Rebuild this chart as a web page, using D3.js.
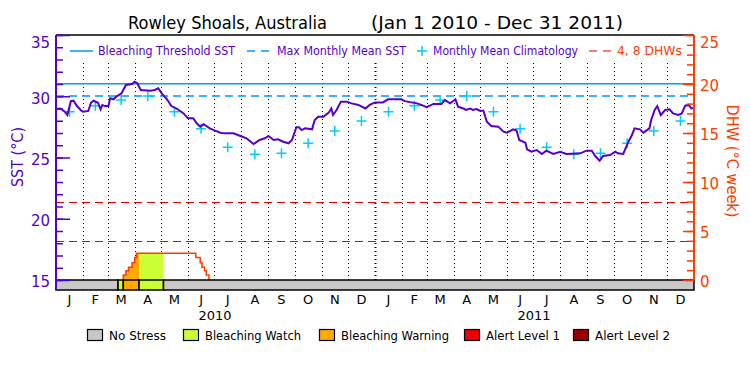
<!DOCTYPE html>
<html>
<head>
<meta charset="utf-8">
<script src="https://cdn.jsdelivr.net/npm/d3@7"></script>
<style>
  body { margin: 0; background: #fff; }
  svg { display: block; font-family: "DejaVu Sans", sans-serif; }
</style>
</head>
<body>
<div class="Canvas"></div>
<script>
// values
const sstDays = [0, 5, 10, 13, 17, 20, 24, 29, 31, 37, 40, 43, 48, 51, 53, 56, 60, 62, 66, 69, 75, 80, 87, 90, 93, 97,
  108, 113, 117, 121, 127, 132, 138, 146, 151, 157, 161, 165, 169, 172, 176, 182, 188, 193, 203, 211, 218, 226, 233,
  239, 243, 249, 254, 260, 266, 270, 275, 278, 281, 285, 293, 296, 300, 306, 312, 315, 317, 321, 326, 333, 338, 346,
  354, 359, 365, 374, 380, 395, 399, 413, 418, 424, 432, 441, 445, 451, 457, 460, 466, 469, 474, 477, 481, 485, 489,
  493, 498, 506, 512, 516, 523, 527, 530, 537, 539, 544, 550, 556, 561, 569, 577, 584, 600, 607, 613, 617, 622, 626,
  634, 640, 643, 649, 655, 659, 662, 668, 672, 679, 681, 685, 688, 692, 697, 702, 706, 712, 716, 720, 724, 727, 730];
const sstValues = [28.96, 29.0, 28.74, 28.47, 29.6, 29.64, 29.2, 28.82, 28.74, 28.8, 29.47, 29.64, 29.47, 28.93, 29.29,
  29.2, 29.2, 29.83, 29.75, 29.97, 30.24, 30.92, 31.0, 31.19, 31.06, 30.51, 30.45, 30.51, 30.65, 30.24, 29.75, 29.2,
  29.0, 28.6, 28.2, 28.2, 27.79, 27.52, 27.71, 27.57, 27.38, 27.19, 27.02, 26.97, 26.97, 26.76, 26.57, 26.1, 26.43,
  26.57, 26.76, 26.43, 26.49, 26.29, 26.16, 26.43, 27.47, 27.47, 27.24, 27.38, 27.3, 28.06, 28.33, 28.33, 28.66, 29.0,
  28.47, 28.88, 29.56, 29.56, 29.42, 29.29, 29.0, 29.29, 29.5, 29.5, 29.75, 29.75, 29.6, 29.42, 29.29, 29.1, 29.37,
  29.37, 29.69, 29.42, 29.75, 29.15, 29.0, 28.88, 29.0, 28.88, 28.95, 28.82, 28.82, 27.92, 27.57, 27.52, 27.11, 27.03,
  27.3, 27.2, 26.43, 26.21, 25.67, 25.47, 25.61, 25.29, 25.56, 25.29, 25.47, 25.29, 25.34, 25.56, 25.56, 25.12, 24.74,
  25.12, 25.2, 25.47, 25.34, 25.29, 26.29, 26.84, 27.38, 27.3, 27.03, 27.38, 28.06, 28.88, 29.2, 28.47, 28.88, 28.93,
  28.6, 28.47, 28.6, 29.23, 29.29, 29.0, 29.05];

const climatology = [28.74, 29.23, 29.69, 30.02, 28.74, 27.35, 25.83, 25.26, 25.34, 26.16, 27.16, 27.98];
const maxMonthlyMean = 30.02;
const bleachingThreshold = 31.02;
const dhwLevels = [4, 8];

const dhwDays = [77, 77, 80, 83, 87, 90, 92, 160, 165, 167, 170, 172, 175];
const dhwValues = [0, 0.51, 0.95, 1.3, 1.77, 2.3, 2.72, 2.3, 1.77, 1.3, 0.95, 0.51, 0];

const stressStart = [0, 71, 77, 95, 123];
const stressEnd = [71, 77, 95, 123, 730];
const stressLevel = [0, 1, 2, 1, 0];

const stressNames = ['No Stress', 'Bleaching Watch', 'Bleaching Warning', 'Alert Level 1', 'Alert Level 2'];
const stressColors = ['#c8c8c8', '#ccff33', '#ffaa00', '#ee0000', '#990000'];

const monthLetters = ['J', 'F', 'M', 'A', 'M', 'J', 'J', 'A', 'S', 'O', 'N', 'D'];
const years = ['2010', '2011'];
const sstTicks = [15, 20, 25, 30, 35];
const dhwTicks = [0, 5, 10, 15, 20, 25];

const purple = '#5500cc';
const orange = '#ff3c00';
const red = '#e80000';
const blue = '#0099ff';
const cyan = '#00ccff';

const plotLeft = 56;
const plotRight = 694;
const plotTop = 35;
const plotBase = 280;
const barBottom = 290;

const start = new Date(Date.UTC(2010, 0, 1));
const end = new Date(Date.UTC(2012, 0, 1));
const day = (d) => d3.utcDay.offset(start, Math.floor(d));

const x = d3.scaleUtc().domain([start, end]).range([plotLeft, plotRight]);
const ySst = d3.scaleLinear().domain([15, 35]).range([plotBase, plotTop]);
const yDhw = d3.scaleLinear().domain([0, 25]).range([plotBase, plotTop]);

const svg = d3.select('.Canvas').append('svg').attr('width', 750).attr('height', 375);

// title
svg.append('text').attr('x', 128).attr('y', 29).attr('font-size', 17)
  .attr('textLength', 199).attr('lengthAdjust', 'spacingAndGlyphs')
  .text('Rowley Shoals, Australia');
svg.append('text').attr('x', 371).attr('y', 29).attr('font-size', 17)
  .attr('textLength', 252).attr('lengthAdjust', 'spacingAndGlyphs')
  .text('(Jan 1 2010 - Dec 31 2011)');

// month grid
const months = d3.utcMonth.range(start, end);
svg.append('g').selectAll('line').data(months.slice(1)).enter().append('line')
  .attr('x1', (d) => Math.round(x(d)) + 0.5).attr('x2', (d) => Math.round(x(d)) + 0.5)
  .attr('y1', 63).attr('y2', plotBase)
  .attr('stroke', 'black')
  .attr('stroke-width', (d) => (d.getUTCMonth() == 0 ? 2 : 1))
  .attr('stroke-dasharray', '1,3');

// reference lines
svg.append('line').attr('x1', plotLeft).attr('x2', plotRight)
  .attr('y1', ySst(bleachingThreshold)).attr('y2', ySst(bleachingThreshold))
  .attr('stroke', blue).attr('stroke-width', 1.5);
svg.append('line').attr('x1', plotLeft).attr('x2', plotRight)
  .attr('y1', ySst(maxMonthlyMean)).attr('y2', ySst(maxMonthlyMean))
  .attr('stroke', blue).attr('stroke-width', 1.5).attr('stroke-dasharray', '8,5');
svg.append('g').selectAll('line').data(dhwLevels).enter().append('line')
  .attr('x1', plotLeft).attr('x2', plotRight)
  .attr('y1', (d) => Math.round(yDhw(d)) + 0.5).attr('y2', (d) => Math.round(yDhw(d)) + 0.5)
  .attr('stroke', red).attr('stroke-width', 1.2).attr('stroke-dasharray', '8,5');

// DHW fill coloured by stress level, then outline
const dhwPoints = dhwDays.map((d, i) => ({ date: day(d), value: dhwValues[i] }));
const area = d3.area().curve(d3.curveStepAfter)
  .x((d) => x(d.date)).y0(plotBase).y1((d) => yDhw(d.value));
const defs = svg.append('defs');
stressLevel.forEach((lvl, i) => {
  if (lvl == 0) return;
  defs.append('clipPath').attr('id', `seg${i}`).append('rect')
    .attr('x', x(day(stressStart[i]))).attr('y', plotTop)
    .attr('width', x(day(stressEnd[i])) - x(day(stressStart[i]))).attr('height', plotBase - plotTop);
  svg.append('path').datum(dhwPoints).attr('d', area)
    .attr('fill', stressColors[lvl]).attr('clip-path', `url(#seg${i})`);
});
svg.append('path').datum(dhwPoints)
  .attr('d', d3.line().curve(d3.curveStepAfter).x((d) => x(d.date)).y((d) => yDhw(d.value)))
  .attr('fill', 'none').attr('stroke', orange).attr('stroke-width', 1.5);

// climatology crosses at mid-month
const climPoints = months.map((m) => {
  const next = d3.utcMonth.offset(m, 1);
  return { date: new Date((+m + +next) / 2), value: climatology[m.getUTCMonth()] };
});
svg.append('g').selectAll('path').data(climPoints).enter().append('path')
  .attr('d', (d) => {
    const cx = x(d.date), cy = ySst(d.value);
    return `M${cx - 5},${cy}H${cx + 5}M${cx},${cy - 5}V${cy + 5}`;
  })
  .attr('stroke', cyan).attr('stroke-width', 1.5);

// SST line
const sstPoints = sstDays.map((d, i) => ({ date: day(d), value: sstValues[i] }));
svg.append('path').datum(sstPoints)
  .attr('d', d3.line().x((d) => x(d.date)).y((d) => ySst(d.value)))
  .attr('fill', 'none').attr('stroke', purple).attr('stroke-width', 2);

// stress bar
svg.append('g').selectAll('rect').data(stressLevel).enter().append('rect')
  .attr('x', (d, i) => x(day(stressStart[i])))
  .attr('width', (d, i) => x(day(stressEnd[i])) - x(day(stressStart[i])))
  .attr('y', plotBase).attr('height', barBottom - plotBase)
  .attr('fill', (d) => stressColors[d]).attr('stroke', 'black').attr('stroke-width', 1.5);

// frame
svg.append('line').attr('x1', plotLeft).attr('x2', plotRight).attr('y1', plotTop).attr('y2', plotTop)
  .attr('stroke', 'black').attr('stroke-width', 1.5);

// left axis
const sstMinor = svg.append('g').attr('transform', `translate(${plotLeft},0)`)
  .call(d3.axisLeft(ySst).tickValues(d3.range(15, 36)).tickSize(-7).tickFormat(''));
const sstMajor = svg.append('g').attr('transform', `translate(${plotLeft},0)`)
  .call(d3.axisLeft(ySst).tickValues(sstTicks).tickSize(-14).tickPadding(6));
[sstMinor, sstMajor].forEach((g) => {
  g.select('.domain').remove();
  g.selectAll('line').attr('stroke', purple).attr('stroke-width', 1.5);
});
sstMajor.selectAll('text').attr('fill', purple).attr('font-size', 15)
  .attr('font-family', '"DejaVu Sans", sans-serif')
  .attr('dy', (d) => (d == 35 ? '0.85em' : '0.45em'));
svg.append('line').attr('x1', plotLeft).attr('x2', plotLeft).attr('y1', plotTop).attr('y2', barBottom)
  .attr('stroke', purple).attr('stroke-width', 2);
svg.append('text').attr('transform', 'translate(23,157) rotate(-90)')
  .attr('text-anchor', 'middle').attr('fill', purple).attr('font-size', 16)
  .attr('textLength', 60).attr('lengthAdjust', 'spacingAndGlyphs')
  .text('SST (°C)');

// right axis
const dhwMinor = svg.append('g').attr('transform', `translate(${plotRight},0)`)
  .call(d3.axisRight(yDhw).tickValues(d3.range(0, 26)).tickSize(-7).tickFormat(''));
const dhwMajor = svg.append('g').attr('transform', `translate(${plotRight},0)`)
  .call(d3.axisRight(yDhw).tickValues(dhwTicks).tickSize(-11).tickPadding(6));
[dhwMinor, dhwMajor].forEach((g) => {
  g.select('.domain').remove();
  g.selectAll('line').attr('stroke', orange).attr('stroke-width', 1.5);
});
dhwMajor.selectAll('text').attr('fill', orange).attr('font-size', 15)
  .attr('font-family', '"DejaVu Sans", sans-serif')
  .attr('dy', (d) => (d == 25 ? '0.85em' : '0.45em'));
svg.append('line').attr('x1', plotRight).attr('x2', plotRight).attr('y1', plotTop).attr('y2', plotBase)
  .attr('stroke', orange).attr('stroke-width', 2);
svg.append('text').attr('transform', 'translate(727,161) rotate(90)')
  .attr('text-anchor', 'middle').attr('fill', orange).attr('font-size', 16)
  .attr('textLength', 113).attr('lengthAdjust', 'spacingAndGlyphs')
  .text('DHW (°C week)');

// month and year labels
svg.append('g').selectAll('text').data(climPoints).enter().append('text')
  .attr('x', (d) => x(d.date)).attr('y', 304)
  .attr('text-anchor', 'middle').attr('font-size', 13)
  .text((d) => monthLetters[d.date.getUTCMonth()]);
svg.append('g').selectAll('text').data(years).enter().append('text')
  .attr('x', (d) => x(new Date(Date.UTC(+d, 6, 2)))).attr('y', 320)
  .attr('text-anchor', 'middle').attr('font-size', 13)
  .text((d) => d);

// top legend
const legendY = 51;
const topLegend = svg.append('g');
topLegend.append('line').attr('x1', 70).attr('x2', 93).attr('y1', legendY).attr('y2', legendY)
  .attr('stroke', blue).attr('stroke-width', 1.5);
topLegend.append('line').attr('x1', 247).attr('x2', 269).attr('y1', legendY).attr('y2', legendY)
  .attr('stroke', blue).attr('stroke-width', 1.5).attr('stroke-dasharray', '8,6');
topLegend.append('path').attr('d', `M417,${legendY}H427M422,${legendY - 5}V${legendY + 5}`)
  .attr('stroke', cyan).attr('stroke-width', 1.5);
topLegend.append('line').attr('x1', 589).attr('x2', 613).attr('y1', legendY).attr('y2', legendY)
  .attr('stroke', red).attr('stroke-width', 1.2).attr('stroke-dasharray', '8,6');
const topLabels = [
  { text: 'Bleaching Threshold SST', x: 98, w: 137, c: purple },
  { text: 'Max Monthly Mean SST', x: 277, w: 129, c: purple },
  { text: 'Monthly Mean Climatology', x: 433, w: 145, c: purple },
  { text: '4, 8 DHWs', x: 617, w: 65, c: orange },
];
topLegend.selectAll('text').data(topLabels).enter().append('text')
  .attr('x', (d) => d.x).attr('y', 55).attr('font-size', 13)
  .attr('textLength', (d) => d.w).attr('lengthAdjust', 'spacingAndGlyphs')
  .attr('fill', (d) => d.c).text((d) => d.text);

// bottom legend
const boxX = [87, 183, 319, 464, 573];
const labelW = [57, 96, 108, 74, 75];
const bottomLegend = svg.append('g').selectAll('g').data(stressNames).enter().append('g');
bottomLegend.append('rect')
  .attr('x', (d, i) => boxX[i] + 0.5).attr('y', 329.5).attr('width', 15).attr('height', 11)
  .attr('fill', (d, i) => stressColors[i]).attr('stroke', 'black').attr('stroke-width', 1.2);
bottomLegend.append('text')
  .attr('x', (d, i) => boxX[i] + 22).attr('y', 340).attr('font-size', 13)
  .attr('textLength', (d, i) => labelW[i]).attr('lengthAdjust', 'spacingAndGlyphs')
  .text((d) => d);
</script>
</body>
</html>
